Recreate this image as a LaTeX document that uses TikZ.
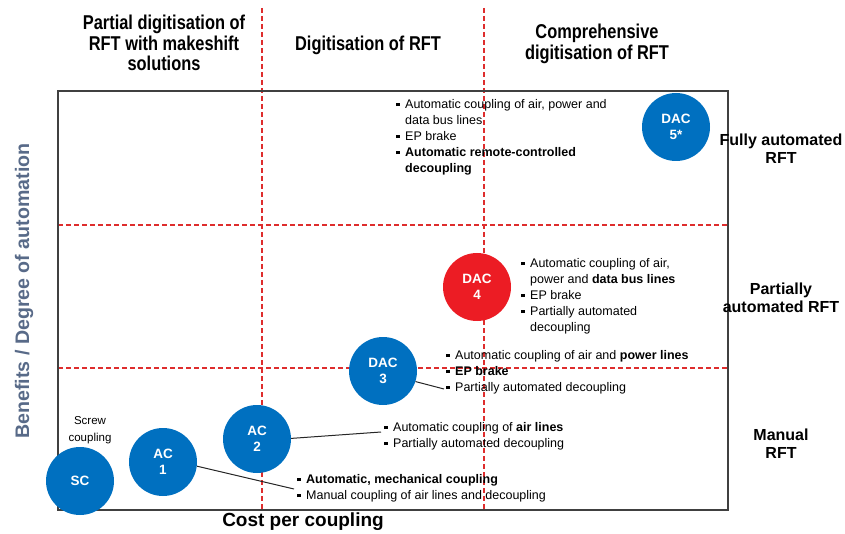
\documentclass[tikz,border=0pt]{standalone}
\usepackage{fontspec}
\setmainfont{Liberation Sans}
\newfontfamily\hdrfont[FakeStretch=0.82]{Liberation Sans}
\definecolor{discblue}{RGB}{0,112,192}
\definecolor{discred}{RGB}{236,28,36}
\definecolor{gridred}{RGB}{222,45,45}
\definecolor{framegray}{RGB}{64,64,64}
\definecolor{axisblue}{RGB}{88,106,136}
% bullet square and hanging indent for the feature lists
\newcommand\blt{\makebox[9pt][l]{\raisebox{2.2pt}{\rule{3.4pt}{3.4pt}}}}
\newcommand\hang{\hspace*{9pt}}
\begin{document}
\begin{tikzpicture}[x=1pt,y=-1pt,
  disc/.style={circle, fill=discblue, text=white, minimum size=68pt, inner sep=0pt,
    align=center, font=\fontsize{13.5}{16}\selectfont\bfseries},
  feat/.style={anchor=north west, inner sep=0pt, align=left,
    font=\fontsize{12.5}{16}\selectfont},
  colhead/.style={align=center, inner sep=0pt, font=\hdrfont\bfseries\fontsize{20}{20.5}\selectfont},
  rowhead/.style={align=center, inner sep=0pt, font=\bfseries\fontsize{16}{18}\selectfont},
  gridline/.style={draw=gridred, dash pattern=on 5pt off 3pt, line width=1.1pt},
  frameline/.style={draw=framegray, line width=1.6pt},
  link/.style={draw=black!85, line width=1pt}]
\useasboundingbox (0,0) rectangle (845,534);

% quadrant grid
\draw[gridline] (262,8) -- (262,510);
\draw[gridline] (484,8) -- (484,510);
\draw[gridline] (58,225) -- (728,225);
\draw[gridline] (58,368) -- (728,368);

% plot frame
\draw[frameline] (58,91) rectangle (728,510);

% column headings
\node[colhead] (colA) at (164,43) {Partial digitisation of\\RFT with makeshift\\solutions};
\node[colhead] (colB) at (368,45) {Digitisation of RFT};
\node[colhead] (colC) at (597,44) {Comprehensive\\digitisation of RFT};

% row headings
\node[rowhead] (rowA) at (781,149) {Fully automated\\RFT};
\node[rowhead] (rowB) at (781,298) {Partially\\automated RFT};
\node[rowhead] (rowC) at (781,444) {Manual\\RFT};

% axis titles
\node[font=\bfseries\fontsize{19}{22}\selectfont, inner sep=0pt] (xaxis) at (303,522) {Cost per coupling};
\node[font=\bfseries\fontsize{19.6}{22}\selectfont, text=axisblue, rotate=90, inner sep=0pt] (yaxis) at (24,291) {Benefits / Degree of automation};

% feature lists
\node[feat] (dac5txt) at (396,99) {\blt Automatic coupling of air, power and\\\hang data bus lines\\\blt EP brake\\\blt\textbf{Automatic remote-controlled}\\\hang\textbf{decoupling}};
\node[feat] (dac4txt) at (521,258) {\blt Automatic coupling of air,\\\hang power and \textbf{data bus lines}\\\blt EP brake\\\blt Partially automated\\\hang decoupling};
\node[feat] (dac3txt) at (446,350) {\blt Automatic coupling of air and \textbf{power lines}\\\blt\textbf{EP brake}\\\blt Partially automated decoupling};
\node[feat] (ac2txt) at (384,422) {\blt Automatic coupling of \textbf{air lines}\\\blt Partially automated decoupling};
\node[feat] (ac1txt) at (297,474) {\blt\textbf{Automatic, mechanical coupling}\\\blt Manual coupling of air lines and decoupling};
\node[align=center, inner sep=0pt, font=\fontsize{11.5}{17}\selectfont] (screw) at (90,430) {Screw\\coupling};

% coupling types
\node[disc] (sc) at (80,481) {SC};
\node[disc] (ac1) at (163,462) {AC\\1};
\node[disc] (ac2) at (257,439) {AC\\2};
\node[disc] (dac3) at (383,371) {DAC\\3};
\node[disc, fill=discred] (dac4) at (477,287) {DAC\\4};
\node[disc] (dac5) at (676,127) {DAC\\5*};

% leader lines to the feature lists
\coordinate (ac1end) at (294,489);
\coordinate (ac2end) at (381,432);
\coordinate (dac3end) at (444,389);
\draw[link] (ac1.-7) -- (ac1end);
\draw[link] (ac2.1) -- (ac2end);
\draw[link] (dac3.-18) -- (dac3end);
\end{tikzpicture}
\end{document}
